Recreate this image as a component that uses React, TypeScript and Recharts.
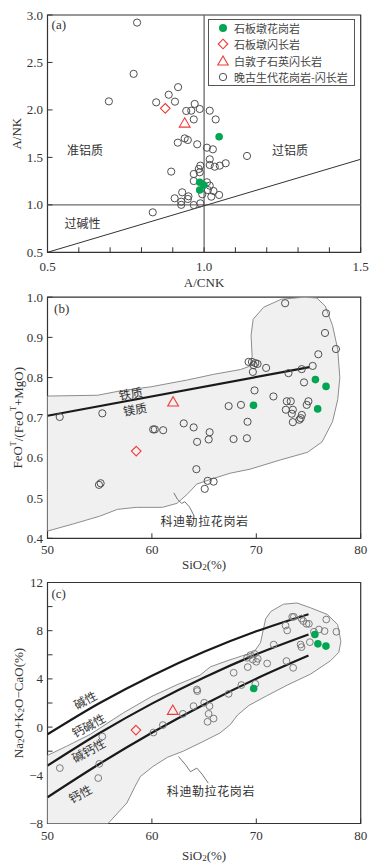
import React from 'react';
import { ScatterChart, Scatter, XAxis, YAxis, ReferenceLine, ReferenceArea, Legend } from 'recharts';

const SERIF = "'Liberation Serif', 'Times New Roman', serif";
const CJK = "'Noto Sans CJK SC', 'Noto Sans', sans-serif";
const GREEN = '#00a651';
const RED = '#ee3b34';
const GRAY = '#505050';
const GRAY_C = '#7c7c7c';
const FIELD_FILL = '#f0f0f0';
const FIELD_STROKE = '#8c8c8c';

// ---------- legend ----------
const seriesNames = ['石板墩花岗岩', '石板墩闪长岩', '白敦子石英闪长岩', '晚古生代花岗岩-闪长岩'];

// ---------- panel (a) A/NK vs A/CNK ----------
const aXTicks = [0.5, 0.6, 0.7, 0.8, 0.9, 1.0, 1.1, 1.2, 1.3, 1.4, 1.5];
const aXLabels = [0.5, 1.0, 1.5];
const aYTicks = [0.5, 1.0, 1.5, 2.0, 2.5, 3.0];
const aGranite = [
  { x: 1.048, y: 1.718 }, { x: 0.986, y: 1.238 }, { x: 0.999, y: 1.209 }, { x: 0.986, y: 1.156 },
];
const aDiorite = [{ x: 0.876, y: 2.017 }];
const aQDiorite = [{ x: 0.938, y: 1.86 }];
const aLatePz = [
  { x: 0.786, y: 2.92 }, { x: 0.775, y: 2.38 }, { x: 0.696, y: 2.09 }, { x: 0.847, y: 2.08 },
  { x: 0.887, y: 2.16 }, { x: 0.917, y: 2.24 }, { x: 0.907, y: 2.087 }, { x: 0.943, y: 1.989 },
  { x: 0.959, y: 1.992 }, { x: 0.97, y: 2.063 }, { x: 0.986, y: 2.01 }, { x: 1.018, y: 1.992 },
  { x: 0.967, y: 1.9 }, { x: 1.037, y: 1.9 }, { x: 0.938, y: 1.7 }, { x: 0.948, y: 1.683 },
  { x: 0.916, y: 1.655 }, { x: 0.978, y: 1.638 }, { x: 1.009, y: 1.602 }, { x: 1.028, y: 1.585 },
  { x: 1.137, y: 1.515 }, { x: 1.018, y: 1.48 }, { x: 1.018, y: 1.42 }, { x: 1.034, y: 1.402 },
  { x: 1.05, y: 1.413 }, { x: 1.069, y: 1.438 }, { x: 0.988, y: 1.413 }, { x: 0.983, y: 1.378 },
  { x: 0.895, y: 1.35 }, { x: 0.986, y: 1.343 }, { x: 0.967, y: 1.325 }, { x: 0.967, y: 1.251 },
  { x: 1.009, y: 1.238 }, { x: 1.018, y: 1.202 }, { x: 1.012, y: 1.156 }, { x: 1.03, y: 1.146 },
  { x: 1.048, y: 1.104 }, { x: 0.994, y: 1.111 }, { x: 1.023, y: 1.086 }, { x: 0.906, y: 1.069 },
  { x: 0.93, y: 1.132 }, { x: 0.927, y: 1.033 }, { x: 0.927, y: 1.0 }, { x: 0.948, y: 1.062 },
  { x: 0.95, y: 1.09 }, { x: 0.967, y: 0.998 }, { x: 0.988, y: 1.016 }, { x: 0.836, y: 0.921 },
];
const aBoundary = [{ x: 0.5, y: 0.5 }, { x: 1.5, y: 1.48 }];
const aPanelTag = [{ x: 0.513, y: 2.9, text: '(a)' }];
const aRegionLabels = [
  { x: 0.62, y: 1.585, text: '准铝质' },
  { x: 1.274, y: 1.585, text: '过铝质' },
  { x: 0.612, y: 0.812, text: '过碱性' },
];

// ---------- panel (b) FeOT/(FeOT+MgO) vs SiO2 ----------
const bXTicks = [50, 60, 70, 80];
const bYTicks = [0.4, 0.5, 0.6, 0.7, 0.8, 0.9, 1.0];
const bGranite = [
  { x: 75.66, y: 0.795 }, { x: 76.68, y: 0.778 }, { x: 75.88, y: 0.722 }, { x: 69.73, y: 0.731 },
];
const bDiorite = [{ x: 58.5, y: 0.617 }];
const bQDiorite = [{ x: 62.03, y: 0.739 }];
const bLatePz = [
  { x: 51.17, y: 0.702 }, { x: 55.25, y: 0.711 }, { x: 60.12, y: 0.671 }, { x: 60.28, y: 0.671 },
  { x: 61.08, y: 0.669 }, { x: 63.05, y: 0.686 }, { x: 64.0, y: 0.676 }, { x: 64.33, y: 0.64 },
  { x: 65.53, y: 0.664 }, { x: 65.44, y: 0.646 }, { x: 67.35, y: 0.729 }, { x: 68.53, y: 0.732 },
  { x: 67.82, y: 0.647 }, { x: 69.1, y: 0.649 }, { x: 69.16, y: 0.69 }, { x: 54.93, y: 0.533 },
  { x: 55.09, y: 0.537 }, { x: 64.26, y: 0.572 }, { x: 65.34, y: 0.543 }, { x: 65.91, y: 0.541 },
  { x: 65.06, y: 0.523 }, { x: 72.76, y: 0.985 }, { x: 76.68, y: 0.96 }, { x: 76.58, y: 0.911 },
  { x: 77.63, y: 0.871 }, { x: 75.94, y: 0.858 }, { x: 69.26, y: 0.839 }, { x: 69.58, y: 0.839 },
  { x: 69.9, y: 0.836 }, { x: 70.12, y: 0.834 }, { x: 69.74, y: 0.831 }, { x: 69.67, y: 0.814 },
  { x: 70.94, y: 0.824 }, { x: 73.08, y: 0.811 }, { x: 74.35, y: 0.821 }, { x: 75.4, y: 0.829 },
  { x: 74.57, y: 0.788 }, { x: 69.83, y: 0.768 }, { x: 71.64, y: 0.753 }, { x: 72.92, y: 0.741 },
  { x: 73.3, y: 0.741 }, { x: 72.83, y: 0.72 }, { x: 73.5, y: 0.72 }, { x: 73.4, y: 0.71 },
  { x: 73.5, y: 0.689 }, { x: 74.26, y: 0.699 }, { x: 74.36, y: 0.707 }, { x: 74.13, y: 0.695 },
  { x: 74.99, y: 0.741 }, { x: 74.83, y: 0.732 },
];
const bDivider = [{ x: 50, y: 0.705 }, { x: 75.1, y: 0.826 }];
const bField = [
  { x: 50, y: 0.754 }, { x: 54.8, y: 0.756 }, { x: 57, y: 0.767 }, { x: 59.9, y: 0.777 },
  { x: 63.4, y: 0.794 }, { x: 65.9, y: 0.808 }, { x: 68.5, y: 0.82 }, { x: 69.35, y: 0.828 },
  { x: 69.6, y: 0.852 }, { x: 69.5, y: 0.905 }, { x: 69.7, y: 0.945 }, { x: 70.7, y: 0.975 },
  { x: 72.4, y: 0.995 }, { x: 74.6, y: 1.0 }, { x: 75.8, y: 0.998 }, { x: 76.6, y: 0.978 },
  { x: 77.3, y: 0.93 }, { x: 77.8, y: 0.87 }, { x: 78.0, y: 0.8 }, { x: 77.8, y: 0.745 },
  { x: 77.3, y: 0.69 }, { x: 76.3, y: 0.64 }, { x: 74.9, y: 0.614 }, { x: 72.3, y: 0.595 },
  { x: 69.4, y: 0.572 }, { x: 67.5, y: 0.562 }, { x: 65.9, y: 0.549 }, { x: 64.3, y: 0.535 },
  { x: 63.4, y: 0.51 }, { x: 62.4, y: 0.487 }, { x: 61, y: 0.477 }, { x: 58.5, y: 0.477 },
  { x: 56.7, y: 0.472 }, { x: 55, y: 0.455 }, { x: 52.5, y: 0.436 }, { x: 50, y: 0.418 },
];
const bLeader = [
  { x: 62.1, y: 0.513 }, { x: 62.45, y: 0.497 }, { x: 62.85, y: 0.487 }, { x: 63.15, y: 0.491 },
  { x: 63.6, y: 0.478 }, { x: 64.0, y: 0.458 },
];
const bPanelTag = [{ x: 50.63, y: 0.972, text: '(b)' }];
const bLineLabels = [
  { x: 57.96, y: 0.762, text: '铁质' },
  { x: 58.36, y: 0.723, text: '镁质' },
];
const bFieldLabel = [{ x: 65.04, y: 0.4455, text: '科迪勒拉花岗岩' }];

// ---------- panel (c) MALI vs SiO2 ----------
const cXTicks = [50, 60, 70, 80];
const cYTicks = [-8, -6, -4, -2, 0, 2, 4, 6, 8, 10, 12];
const cGranite = [
  { x: 75.61, y: 7.69 }, { x: 75.9, y: 6.91 }, { x: 76.67, y: 6.72 }, { x: 69.75, y: 3.2 },
];
const cDiorite = [{ x: 58.47, y: -0.25 }];
const cQDiorite = [{ x: 62.0, y: 1.38 }];
const cLatePz = [
  { x: 51.18, y: -3.4 }, { x: 55.25, y: -0.78 }, { x: 54.96, y: -3.05 }, { x: 54.86, y: -4.23 },
  { x: 60.14, y: -0.45 }, { x: 61.05, y: 0.17 }, { x: 62.97, y: 1.1 }, { x: 63.99, y: 1.74 },
  { x: 64.31, y: 3.12 }, { x: 64.35, y: 2.99 }, { x: 65.01, y: 2.02 }, { x: 65.52, y: 1.74 },
  { x: 65.43, y: 1.1 }, { x: 65.33, y: 0.44 }, { x: 65.91, y: 0.71 }, { x: 67.35, y: 2.76 },
  { x: 67.83, y: 4.51 }, { x: 68.57, y: 3.49 }, { x: 69.91, y: 3.59 }, { x: 69.12, y: 5.75 },
  { x: 69.43, y: 5.97 }, { x: 69.82, y: 6.08 }, { x: 69.66, y: 5.61 }, { x: 70.14, y: 5.67 },
  { x: 70.0, y: 5.42 }, { x: 69.18, y: 4.98 }, { x: 71.04, y: 5.28 }, { x: 71.67, y: 6.85 },
  { x: 72.8, y: 8.43 }, { x: 72.96, y: 8.02 }, { x: 72.89, y: 5.48 }, { x: 73.53, y: 4.92 },
  { x: 73.44, y: 9.15 }, { x: 73.6, y: 9.15 }, { x: 74.33, y: 9.01 }, { x: 74.5, y: 8.8 },
  { x: 74.81, y: 8.57 }, { x: 75.04, y: 8.57 }, { x: 74.24, y: 6.85 }, { x: 74.33, y: 6.64 },
  { x: 75.13, y: 7.05 }, { x: 75.52, y: 7.91 }, { x: 76.0, y: 8.1 }, { x: 76.54, y: 7.97 },
  { x: 76.7, y: 8.93 }, { x: 77.67, y: 7.91 },
];
const cAlkalic = [
  { x: 50, y: -0.6 }, { x: 55, y: 2.0 }, { x: 60, y: 4.27 }, { x: 65, y: 6.25 }, { x: 70, y: 7.95 }, { x: 75, y: 9.37 },
];
const cAlkaliCalcic = [
  { x: 50, y: -3.2 }, { x: 55, y: -0.49 }, { x: 60, y: 1.95 }, { x: 65, y: 4.12 }, { x: 70, y: 6.04 }, { x: 75, y: 7.69 },
];
const cCalcAlkalic = [
  { x: 50, y: -5.82 }, { x: 55, y: -3.04 }, { x: 60, y: -0.47 }, { x: 65, y: 1.88 }, { x: 70, y: 4.02 }, { x: 75, y: 5.94 },
];
const cField = [
  { x: 50, y: -2.35 }, { x: 51.8, y: -1.6 }, { x: 54.1, y: -0.6 }, { x: 57.3, y: 1.2 },
  { x: 60, y: 2.55 }, { x: 62.5, y: 3.55 }, { x: 64.6, y: 4.3 }, { x: 65.6, y: 5.0 },
  { x: 67.2, y: 5.5 }, { x: 68.6, y: 5.9 }, { x: 69.75, y: 6.2 }, { x: 70.4, y: 7.0 },
  { x: 70.9, y: 9.0 }, { x: 71.4, y: 9.6 }, { x: 72.6, y: 10.2 }, { x: 73.9, y: 10.3 },
  { x: 75.2, y: 9.9 }, { x: 76.8, y: 9.35 }, { x: 77.8, y: 8.5 }, { x: 78.1, y: 7.1 },
  { x: 77.9, y: 6.2 }, { x: 77.1, y: 5.5 }, { x: 75.2, y: 4.4 }, { x: 73.0, y: 3.5 },
  { x: 71.0, y: 2.6 }, { x: 69.3, y: 1.8 }, { x: 68.2, y: 1.0 }, { x: 67.5, y: 0.2 },
  { x: 66.5, y: -0.5 }, { x: 64.9, y: -1.2 }, { x: 63.0, y: -2.0 }, { x: 61.5, y: -2.5 },
  { x: 60.1, y: -3.27 }, { x: 58.9, y: -4.1 }, { x: 58.4, y: -4.9 }, { x: 57.6, y: -6.3 },
  { x: 55.8, y: -8 }, { x: 50, y: -8 },
];
const cLeader = [
  { x: 62.55, y: -2.44 }, { x: 63.2, y: -3.1 }, { x: 63.7, y: -3.7 }, { x: 64.3, y: -3.4 },
  { x: 64.8, y: -3.9 }, { x: 65.4, y: -4.65 },
];
const cPanelTag = [{ x: 50.38, y: 11.12, text: '(c)' }];
const cCurveLabels = [
  { x: 53.58, y: 2.3, text: '碱性' },
  { x: 53.9, y: 0.19, text: '钙碱性' },
  { x: 53.9, y: -1.88, text: '碱钙性' },
  { x: 53.1, y: -5.48, text: '钙性' },
];
const cFieldLabel = [{ x: 65.65, y: -5.26, text: '科迪勒拉花岗岩' }];

// ---------- shapes ----------
const Hidden = () => <g />;
const openCircle = (color: string, r: number) => (p: any) => (
  <circle cx={p.cx} cy={p.cy} r={r} fill="none" stroke={color} strokeWidth={1} />
);
const greenDot = (p: any) => <circle cx={p.cx} cy={p.cy} r={3.8} fill={GREEN} />;
const diamond = (p: any) => {
  const s = 4.8;
  return (
    <polygon
      points={`${p.cx},${p.cy - s} ${p.cx + s},${p.cy} ${p.cx},${p.cy + s} ${p.cx - s},${p.cy}`}
      fill="none" stroke={RED} strokeWidth={1.1}
    />
  );
};
const triangle = (p: any) => {
  const s = 5.4;
  return (
    <polygon
      points={`${p.cx},${p.cy - s} ${p.cx + s},${p.cy + s * 0.72} ${p.cx - s},${p.cy + s * 0.72}`}
      fill="none" stroke={RED} strokeWidth={1.1}
    />
  );
};
const textShape = (size: number, family: string, anchor: string, angle = 0, spacing = 0) => (p: any) => (
  <text
    x={p.cx} y={p.cy} textAnchor={anchor} dominantBaseline="central"
    fontSize={size} fontFamily={family} fill="#333" letterSpacing={spacing}
    transform={angle ? `rotate(${angle} ${p.cx} ${p.cy})` : undefined}
  >
    {p.payload.text}
  </text>
);

// ---------- axis helpers ----------
const fmt1 = (v: number) => v.toFixed(1);
const xTick = (fmt: (v: number) => string) => (p: any) => (
  <text x={p.x} y={p.y} dy="0.71em" textAnchor="middle" fontSize={13} fontFamily={SERIF} fill="#333">
    {fmt(p.payload.value)}
  </text>
);
const yTick = (fmt: (v: number) => string) => (p: any) => (
  <text x={p.x} y={p.y} dy="0.35em" textAnchor="end" fontSize={13} fontFamily={SERIF} fill="#333">
    {fmt(p.payload.value)}
  </text>
);

const xTitle = (content: React.ReactNode, dy: number) => (props: any) => {
  const vb = props.viewBox || { x: 47.5, y: 0, width: 313 };
  return (
    <text x={vb.x + vb.width / 2} y={vb.y + dy} textAnchor="middle" dominantBaseline="central"
      fontSize={13} fontFamily={SERIF} fill="#333">
      {content}
    </text>
  );
};
const yTitle = (content: React.ReactNode, dx: number) => (props: any) => {
  const vb = props.viewBox || { x: 7.5, y: 0, height: 240 };
  const x = vb.x + dx;
  const y = vb.y + vb.height / 2;
  return (
    <text x={x} y={y} textAnchor="middle" dominantBaseline="central" fontSize={13}
      fontFamily={SERIF} fill="#333" transform={`rotate(-90 ${x} ${y})`}>
      {content}
    </text>
  );
};

const LegendIcon = ({ i }: { i: number }) => (
  <svg width={12} height={12} style={{ display: 'block' }}>
    {i === 0 && <circle cx={6} cy={6} r={4} fill={GREEN} />}
    {i === 1 && <polygon points="6,1.2 10.8,6 6,10.8 1.2,6" fill="none" stroke={RED} strokeWidth={1.1} />}
    {i === 2 && <polygon points="6,1 11.2,10 0.8,10" fill="none" stroke={RED} strokeWidth={1.1} />}
    {i === 3 && <circle cx={6} cy={6} r={3.7} fill="none" stroke={GRAY} strokeWidth={1} />}
  </svg>
);

const LegendBox = () => (
  <div style={{
    width: 147, height: 67, boxSizing: 'border-box', border: '1px solid #555', background: '#fff',
    fontFamily: CJK, fontSize: 11, color: '#444', paddingTop: 0,
  }}>
    {seriesNames.map((n, i) => (
      <div key={n} style={{ height: 16.3, display: 'flex', alignItems: 'center', paddingLeft: 8 }}>
        <LegendIcon i={i} />
        <span style={{ marginLeft: 5, whiteSpace: 'nowrap', lineHeight: '16px' }}>{n}</span>
      </div>
    ))}
  </div>
);

const ML = 7.5;
const MR = 20.3;
const YW = 40;
const XH = 30;
const minusFmt = (v: number) => (v % 4 === 0 ? (v < 0 ? '\u2212' + Math.abs(v) : String(v)) : '');
const aXFmt = (v: number) => (aXLabels.some((l) => Math.abs(l - v) < 1e-6) ? fmt1(v) : '');
const intFmt = (v: number) => String(v);

export default function App() {
  return (
    <div style={{ position: 'absolute', left: 0, top: 0, width: 381, height: 866, background: '#fff', overflow: 'hidden' }}>
      {/* Panel (a) */}
      <div style={{ position: 'absolute', left: 0, top: 0 }}>
        <ScatterChart width={381} height={290} margin={{ top: 15, right: MR, bottom: 7.7, left: ML }}>
          <XAxis type="number" dataKey="x" domain={[0.5, 1.5]} ticks={aXTicks} interval={0}
            tickSize={-5} tickMargin={14} axisLine={false} tickLine={{ stroke: '#333' }} tick={xTick(aXFmt)}
            height={XH} allowDataOverflow label={xTitle('A/CNK', 29.7)} />
          <YAxis type="number" dataKey="y" domain={[0.5, 3.0]} ticks={aYTicks} interval={0}
            tickSize={-5} tickMargin={9.5} axisLine={false} tickLine={{ stroke: '#333' }} tick={yTick(fmt1)}
            width={YW} allowDataOverflow label={yTitle('A/NK', 9)} />
          <ReferenceLine x={1.0} stroke="#6a6a6a" strokeWidth={1.3} />
          <ReferenceLine y={1.0} stroke="#6a6a6a" strokeWidth={1.3} />
          <Scatter data={aBoundary} shape={Hidden} line={{ stroke: '#333', strokeWidth: 1 }} isAnimationActive={false} />
          <ReferenceArea x1={0.5} x2={1.5} y1={0.5} y2={3.0} fill="none" stroke="#333" strokeWidth={1.2} ifOverflow="visible" />
          <Scatter data={aLatePz} shape={openCircle(GRAY, 3.6)} isAnimationActive={false} />
          <Scatter data={aGranite} shape={greenDot} isAnimationActive={false} />
          <Scatter data={aDiorite} shape={diamond} isAnimationActive={false} />
          <Scatter data={aQDiorite} shape={triangle} isAnimationActive={false} />
          <Scatter data={aPanelTag} shape={textShape(13, SERIF, 'start')} isAnimationActive={false} />
          <Scatter data={aRegionLabels} shape={textShape(12, CJK, 'middle')} isAnimationActive={false} />
          <Legend layout="vertical" align="center" verticalAlign="middle" content={() => <LegendBox />}
            wrapperStyle={{ left: 208, top: 19, width: 147, height: 67 }} />
        </ScatterChart>
      </div>

      {/* Panel (b) */}
      <div style={{ position: 'absolute', left: 0, top: 290 }}>
        <ScatterChart width={381} height={290} margin={{ top: 7.2, right: MR, bottom: 11.7, left: ML }}>
          <XAxis type="number" dataKey="x" domain={[50, 80]} ticks={bXTicks} interval={0}
            tickSize={-5} tickMargin={11.5} axisLine={false} tickLine={{ stroke: '#333' }} tick={xTick(intFmt)}
            height={XH} allowDataOverflow
            label={xTitle(<>SiO<tspan dy={3} fontSize={9}>2</tspan><tspan dy={-3}>(%)</tspan></>, 26)} />
          <YAxis type="number" dataKey="y" domain={[0.4, 1.0]} ticks={bYTicks} interval={0}
            tickSize={-5} tickMargin={9.5} axisLine={false} tickLine={{ stroke: '#333' }} tick={yTick(fmt1)}
            width={YW} allowDataOverflow
            label={yTitle(<>FeO<tspan dy={-5} fontSize={8}>T</tspan><tspan dy={5}>/(FeO</tspan><tspan dy={-5} fontSize={8}>T</tspan><tspan dy={5}>+MgO)</tspan></>, 10)} />
          <Scatter data={[...bField, bField[0]]} shape={Hidden}
            line={{ stroke: FIELD_STROKE, strokeWidth: 1, fill: FIELD_FILL }} isAnimationActive={false} />
          <Scatter data={bLeader} shape={Hidden} line={{ stroke: '#555', strokeWidth: 0.8 }} isAnimationActive={false} />
          <Scatter data={bDivider} shape={Hidden} line={{ stroke: '#1a1a1a', strokeWidth: 2.2 }} isAnimationActive={false} />
          <ReferenceArea x1={50} x2={80} y1={0.4} y2={1.0} fill="none" stroke="#333" strokeWidth={1.2} ifOverflow="visible" />
          <Scatter data={bLatePz} shape={openCircle(GRAY, 3.6)} isAnimationActive={false} />
          <Scatter data={bGranite} shape={greenDot} isAnimationActive={false} />
          <Scatter data={bDiorite} shape={diamond} isAnimationActive={false} />
          <Scatter data={bQDiorite} shape={triangle} isAnimationActive={false} />
          <Scatter data={bPanelTag} shape={textShape(13, SERIF, 'start')} isAnimationActive={false} />
          <Scatter data={bLineLabels} shape={textShape(12, CJK, 'middle', -10)} isAnimationActive={false} />
          <Scatter data={bFieldLabel} shape={textShape(12, CJK, 'middle', 0, 0.6)} isAnimationActive={false} />
        </ScatterChart>
      </div>

      {/* Panel (c) */}
      <div style={{ position: 'absolute', left: 0, top: 575 }}>
        <ScatterChart width={381} height={291} margin={{ top: 7.5, right: MR, bottom: 12.5, left: ML }}>
          <XAxis type="number" dataKey="x" domain={[50, 80]} ticks={cXTicks} interval={0}
            tickSize={-5} tickMargin={12} axisLine={false} tickLine={{ stroke: '#333' }} tick={xTick(intFmt)}
            height={XH} allowDataOverflow
            label={xTitle(<>SiO<tspan dy={3} fontSize={9}>2</tspan><tspan dy={-3}>(%)</tspan></>, 31.5)} />
          <YAxis type="number" dataKey="y" domain={[-8, 12]} ticks={cYTicks} interval={0}
            tickSize={-5} tickMargin={9.5} axisLine={false} tickLine={{ stroke: '#333' }} tick={yTick(minusFmt)}
            width={YW} allowDataOverflow
            label={yTitle(<>Na<tspan dy={3} fontSize={9}>2</tspan><tspan dy={-3}>O+K</tspan><tspan dy={3} fontSize={9}>2</tspan><tspan dy={-3}>O{'\u2212'}CaO(%)</tspan></>, 10.5)} />
          <Scatter data={[...cField, cField[0]]} shape={Hidden}
            line={{ stroke: FIELD_STROKE, strokeWidth: 1, fill: FIELD_FILL }} isAnimationActive={false} />
          <Scatter data={cLeader} shape={Hidden} line={{ stroke: '#555', strokeWidth: 0.8 }} isAnimationActive={false} />
          <Scatter data={cAlkalic} shape={Hidden} lineJointType="monotoneX" line={{ stroke: '#1a1a1a', strokeWidth: 2.2 }} isAnimationActive={false} />
          <Scatter data={cAlkaliCalcic} shape={Hidden} lineJointType="monotoneX" line={{ stroke: '#1a1a1a', strokeWidth: 2.2 }} isAnimationActive={false} />
          <Scatter data={cCalcAlkalic} shape={Hidden} lineJointType="monotoneX" line={{ stroke: '#1a1a1a', strokeWidth: 2.2 }} isAnimationActive={false} />
          <ReferenceArea x1={50} x2={80} y1={-8} y2={12} fill="none" stroke="#333" strokeWidth={1.2} ifOverflow="visible" />
          <Scatter data={cLatePz} shape={openCircle(GRAY_C, 3.4)} isAnimationActive={false} />
          <Scatter data={cGranite} shape={greenDot} isAnimationActive={false} />
          <Scatter data={cDiorite} shape={diamond} isAnimationActive={false} />
          <Scatter data={cQDiorite} shape={triangle} isAnimationActive={false} />
          <Scatter data={cPanelTag} shape={textShape(13, SERIF, 'start')} isAnimationActive={false} />
          <Scatter data={cCurveLabels} shape={textShape(12, CJK, 'middle', -28)} isAnimationActive={false} />
          <Scatter data={cFieldLabel} shape={textShape(12, CJK, 'middle', 0, 0.6)} isAnimationActive={false} />
        </ScatterChart>
      </div>
    </div>
  );
}
